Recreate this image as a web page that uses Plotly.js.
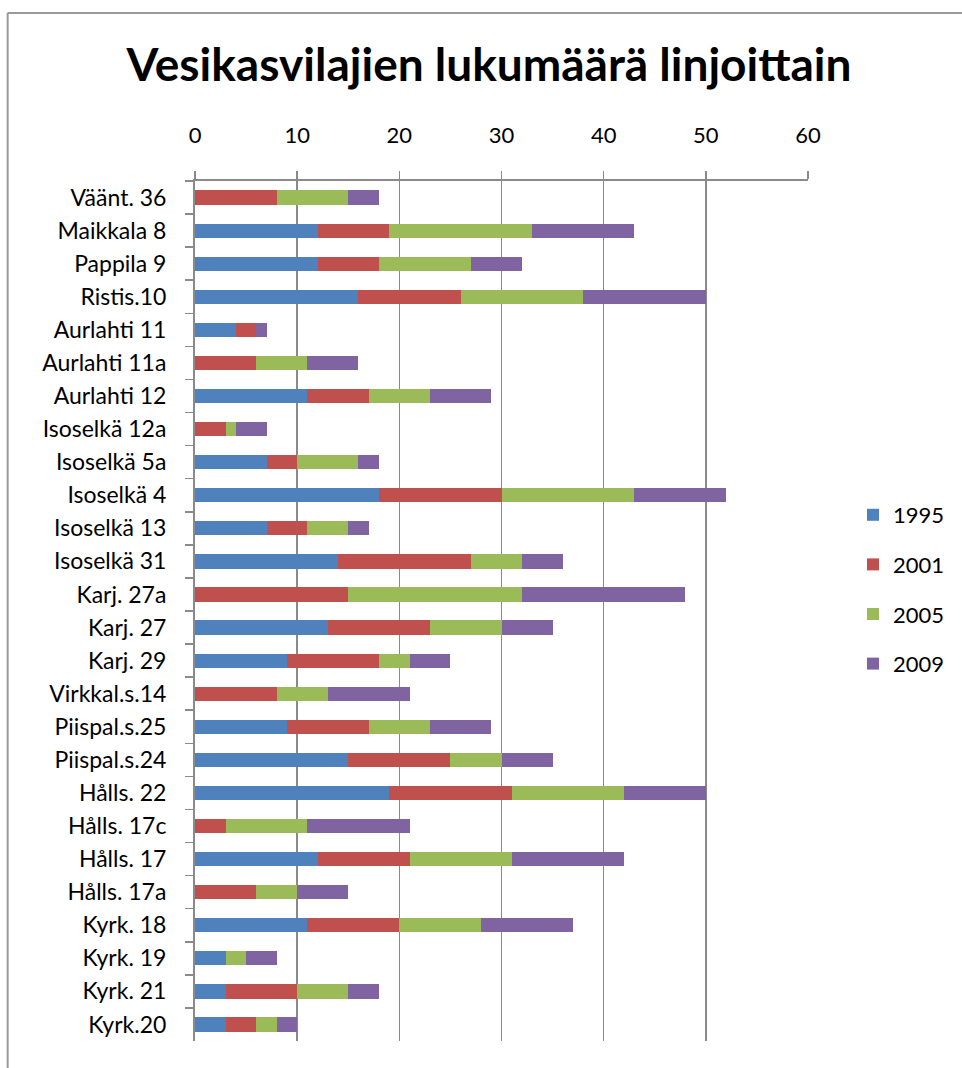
<!DOCTYPE html>
<html>
<head>
<meta charset="utf-8">
<script src="https://cdn.plot.ly/plotly-3.0.1.min.js"></script>
<style>
  html, body { margin: 0; padding: 0; background: #ffffff; }
  #chart { width: 962px; height: 1068px; }
</style>
</head>
<body>
<div id="chart"></div>
<script>
// Categories (top to bottom)
const categories = [
  "Väänt. 36", "Maikkala 8", "Pappila 9", "Ristis.10", "Aurlahti 11",
  "Aurlahti 11a", "Aurlahti 12", "Isoselkä 12a", "Isoselkä 5a", "Isoselkä 4",
  "Isoselkä 13", "Isoselkä 31", "Karj. 27a", "Karj. 27", "Karj. 29",
  "Virkkal.s.14", "Piispal.s.25", "Piispal.s.24", "Hålls. 22", "Hålls. 17c",
  "Hålls. 17", "Hålls. 17a", "Kyrk. 18", "Kyrk. 19", "Kyrk. 21", "Kyrk.20"
];

// Series values (number of species per line)
const v1995 = [0, 12, 12, 16, 4, 0, 11, 0, 7, 18, 7, 14, 0, 13, 9, 0, 9, 15, 19, 0, 12, 0, 11, 3, 3, 3];
const v2001 = [8, 7, 6, 10, 2, 6, 6, 3, 3, 12, 4, 13, 15, 10, 9, 8, 8, 10, 12, 3, 9, 6, 9, 0, 7, 3];
const v2005 = [7, 14, 9, 12, 0, 5, 6, 1, 6, 13, 4, 5, 17, 7, 3, 5, 6, 5, 11, 8, 10, 4, 8, 2, 5, 2];
const v2009 = [3, 10, 5, 12, 1, 5, 6, 3, 2, 9, 2, 4, 16, 5, 4, 8, 6, 5, 8, 10, 11, 5, 9, 3, 3, 2];

const seriesNames = ["1995", "2001", "2005", "2009"];
const seriesValues = [v1995, v2001, v2005, v2009];
const seriesColors = ["#4F81BD", "#C0504D", "#9BBB59", "#8064A2"];

const xTickVals = [0, 10, 20, 30, 40, 50, 60];

const titleText = "Vesikasvilajien lukumäärä linjoittain";

const labelFont = "Lato, 'Open Sans', sans-serif";
const axisGray = "#8a8a8a";

const traces = seriesNames.map((name, i) => ({
  type: "bar",
  orientation: "h",
  name: name,
  y: categories,
  x: seriesValues[i],
  legendgroup: name,
  marker: { color: seriesColors[i], line: { width: 0 } },
  hoverinfo: "x+y+name"
}));

// plot area geometry (pixels) used for border shapes
const W = 962, H = 1068;
const mL = 194.5, mR = 154, mT = 181, mB = 26.5;
const pw = W - mL - mR, ph = H - mT - mB;
const px2x = p => (p - mL) / pw;
const py2y = p => (H - mB - p) / ph;

const layout = {
  width: W,
  height: H,
  margin: { l: mL, r: mR, t: mT, b: mB, pad: 0 },
  paper_bgcolor: "#ffffff",
  plot_bgcolor: "#ffffff",
  font: { family: labelFont, color: "#000000", size: 22 },
  title: {
    text: "<b>" + titleText + "</b>",
    font: { family: "Lato, sans-serif", size: 46, color: "#000000" },
    x: 489 / W,
    xanchor: "center",
    xref: "container",
    y: 1 - 65 / H,
    yanchor: "middle",
    yref: "container"
  },
  barmode: "stack",
  bargap: 0.57,
  xaxis: {
    side: "top",
    range: [0, 60],
    tickvals: xTickVals,
    ticktext: xTickVals.map(String),
    showgrid: true,
    gridcolor: axisGray,
    gridwidth: 1.5,
    zeroline: false,
    showline: true,
    linecolor: axisGray,
    linewidth: 2,
    ticks: "outside",
    ticklen: 8,
    tickwidth: 1.5,
    tickcolor: axisGray,
    ticklabelstandoff: 19,
    tickfont: { family: labelFont, size: 22, color: "#000000" },
    fixedrange: true
  },
  yaxis: {
    type: "category",
    autorange: "reversed",
    showgrid: false,
    zeroline: false,
    showline: true,
    linecolor: axisGray,
    linewidth: 2,
    ticks: "outside",
    tickson: "boundaries",
    ticklen: 8,
    tickwidth: 1.5,
    tickcolor: axisGray,
    ticklabelstandoff: 22,
    tickfont: { family: labelFont, size: 23, color: "#000000" },
    fixedrange: true
  },
  legend: {
    traceorder: "grouped",
    tracegroupgap: 18,
    xref: "container",
    yref: "container",
    x: 853 / W,
    y: 1 - 494 / H,
    xanchor: "left",
    yanchor: "top",
    bgcolor: "rgba(0,0,0,0)",
    font: { family: labelFont, size: 22, color: "#000000" }
  },
  shapes: [
    { type: "line", xref: "paper", yref: "paper",
      x0: px2x(7), x1: px2x(7), y0: py2y(13), y1: py2y(H + 5),
      line: { color: "#9a9a9a", width: 2 } },
    { type: "line", xref: "paper", yref: "paper",
      x0: px2x(7), x1: px2x(W + 5), y0: py2y(13), y1: py2y(13),
      line: { color: "#9a9a9a", width: 2 } }
  ]
};

Plotly.newPlot("chart", traces, layout, { displayModeBar: false, staticPlot: true });
</script>
</body>
</html>
